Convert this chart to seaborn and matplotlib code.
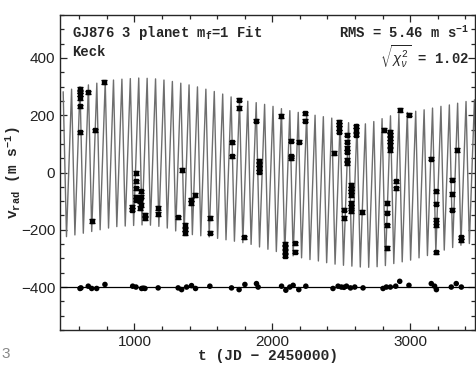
import numpy as np
import pandas as pd
import seaborn as sns
import matplotlib.pyplot as plt
from matplotlib.ticker import MultipleLocator

# model curve: peaks and troughs
peak_t = [483, 544, 605, 666, 727, 788, 848, 909, 970, 1031, 1092, 1153, 1214, 1275,
          1336, 1396, 1457, 1518, 1579, 1640, 1701, 1762, 1822, 1883, 1944, 2005, 2066,
          2127, 2188, 2249, 2310, 2370, 2431, 2492, 2553, 2614, 2675, 2736, 2796, 2857,
          2918, 2979, 3040, 3101, 3162, 3223, 3284, 3344, 3405, 3466]
peak_v = [282, 291, 299, 306, 312, 318, 323, 326, 328, 330, 329, 327, 323, 318,
          312, 306, 299, 291, 283, 274, 264, 256, 249, 244, 238, 231, 223,
          216, 210, 205, 200, 195, 190, 182, 174, 169, 170, 178, 188, 198,
          205, 210, 214, 219, 225, 231, 236, 242, 248, 254]
trough_t = [507, 568, 629, 690, 751, 812, 872, 933, 994, 1055, 1116, 1177, 1238, 1299,
            1360, 1420, 1481, 1542, 1603, 1664, 1725, 1786, 1846, 1907, 1968, 2029, 2090,
            2151, 2212, 2273, 2334, 2394, 2455, 2516, 2577, 2638, 2699, 2760, 2820, 2881,
            2942, 3003, 3064, 3125, 3186, 3247, 3308, 3368, 3429, 3490]
trough_v = [-224, -218, -212, -206, -200, -194, -189, -187, -185, -183, -184, -188, -194, -204,
            -212, -217, -221, -225, -230, -235, -240, -245, -251, -260, -268, -276, -284,
            -291, -298, -304, -309, -315, -320, -324, -327, -330, -331, -329, -325, -318,
            -312, -306, -298, -290, -280, -271, -262, -254, -248, -242]

# Keck velocities
obs_t = [605, 605, 605, 605, 605, 605, 665, 690, 713, 781, 985, 985,
         1011, 1011, 1011, 1011, 1011, 1040, 1040, 1050, 1050, 1050, 1076, 1076,
         1168, 1168, 1318, 1345, 1368, 1368, 1368, 1412, 1412, 1437, 1545, 1545,
         1704, 1704, 1757, 1757, 1793, 1885, 1902, 1902, 1902, 1902,
         2064, 2095, 2095, 2095, 2095, 2132, 2132, 2132, 2163, 2163, 2192, 2240, 2240,
         2448, 2482, 2482, 2482, 2482, 2518, 2518, 2538, 2538, 2538, 2538, 2538, 2538,
         2569, 2569, 2569, 2569, 2569, 2569, 2569, 2605, 2605, 2605, 2653,
         2810, 2851, 2851, 2851, 2851, 2851, 2851, 2835, 2835, 2835, 2835, 2899, 2899,
         2923, 2988, 3153, 3185, 3185, 3185, 3185, 3185, 3303, 3303, 3303, 3339, 3371, 3371]
obs_v = [291, 283, 273, 260, 231, 140, 280, -169, 147, 316, -119, -130,
         -2, -31, -55, -84, -95, -101, -124, -66, -84, -113, -148, -159,
         -124, -145, -157, 9, -183, -200, -212, -95, -107, -78, -159, -210,
         105, 56, 254, 225, -226, 181, 41, 27, 15, 3,
         198, -250, -260, -276, -290, 111, 56, 50, -247, -276, 108, 207, 181,
         68, 178, 167, 155, 143, -130, -159, 132, 108, 85, 73, 44, 33,
         -43, -55, -66, -78, -107, -119, -136, 161, 149, 132, -138,
         149, 143, 131, 120, 108, 96, 79, -107, -140, -185, -264, -31, -55,
         219, 202, 48, -66, -109, -165, -185, -279, -25, -75, -130, 79, -226, -237]

# residuals, shown offset by -400
res_t = [605, 612, 665, 690, 726, 786, 987, 1011, 1052, 1064, 1076, 1172, 1317, 1342,
         1378, 1414, 1443, 1547, 1704, 1759, 1801, 1885, 1897, 2067, 2098, 2127, 2151,
         2192, 2243, 2440, 2477, 2501, 2520, 2538, 2567, 2598, 2658, 2803, 2827, 2856,
         2895, 2924, 2991, 3153, 3177, 3190, 3298, 3334, 3371]
res_v = [-405, -403, -397, -405, -405, -391, -397, -400, -405, -404, -405, -403, -403, -409,
         -400, -395, -405, -397, -403, -409, -391, -388, -400, -397, -411, -400, -394,
         -409, -397, -405, -397, -400, -401, -397, -403, -400, -403, -405, -400, -400,
         -397, -380, -394, -388, -397, -409, -400, -388, -400]

sns.set_style("ticks")
mono = "Liberation Mono"
plt.rcParams["font.family"] = ["Liberation Sans", "DejaVu Sans"]
plt.rcParams["mathtext.fontset"] = "custom"
plt.rcParams["mathtext.rm"] = mono
plt.rcParams["mathtext.it"] = mono + ":italic"
plt.rcParams["mathtext.bf"] = mono + ":bold"

fig = plt.figure(figsize=(4.77, 3.69), dpi=100)
ax = fig.add_axes([0.1258, 0.1057, 0.8700, 0.8536])

model = pd.concat([pd.DataFrame({"t": peak_t, "v": peak_v}),
                   pd.DataFrame({"t": trough_t, "v": trough_v})]).sort_values("t")
sns.lineplot(data=model, x="t", y="v", estimator=None, sort=False,
             color="#6e6e6e", lw=1.0, ax=ax)

ax.axhline(-400, color="black", lw=0.9)
ax.errorbar(obs_t, obs_v, yerr=6, fmt="s", ms=3.2, color="black",
            ecolor="black", elinewidth=0.9, capsize=2.2, capthick=0.9)
sns.scatterplot(x=res_t, y=res_v, color="black", s=16, edgecolor="none", ax=ax)

ax.set_xlim(460, 3470)
ax.set_ylim(-550, 550)
ax.xaxis.set_major_locator(MultipleLocator(1000))
ax.xaxis.set_minor_locator(MultipleLocator(200))
ax.yaxis.set_major_locator(MultipleLocator(200))
ax.yaxis.set_minor_locator(MultipleLocator(50))
ax.tick_params(which="both", direction="in", top=True, right=True,
               labelsize=11, labelcolor="#222222", width=0.9)
ax.tick_params(which="major", length=5)
ax.tick_params(which="minor", length=3)
for s in ax.spines.values():
    s.set_linewidth(1.0)
    s.set_visible(True)

ax.set_xlabel("t (JD − 2450000)", family=mono, weight="bold", fontsize=10.5, labelpad=0)
ax.set_ylabel(r"v$_{\mathbf{rad}}$ (m s$^{\mathbf{-1}}$)", family=mono, weight="bold",
              fontsize=10.5)
ax.yaxis.set_label_coords(-0.09, 0.5)

ax.text(0.03, 0.97, r"GJ876 3 planet m$_{\mathbf{f}}$=1 Fit", transform=ax.transAxes,
        family=mono, weight="bold", fontsize=10, va="top")
ax.text(0.03, 0.905, "Keck", transform=ax.transAxes,
        family=mono, weight="bold", fontsize=10, va="top")
ax.text(0.985, 0.97, r"RMS = 5.46 m s$^{\mathbf{-1}}$", transform=ax.transAxes,
        family=mono, weight="bold", fontsize=10, va="top", ha="right")
ax.text(0.985, 0.912, r"$\sqrt{\chi^2_\nu}$ = 1.02", transform=ax.transAxes,
        family=mono, weight="bold", fontsize=10, va="top", ha="right")

fig.text(0.002, 0.03, "3", color="#888888", fontsize=11)

fig.savefig("out.png", dpi=100)
